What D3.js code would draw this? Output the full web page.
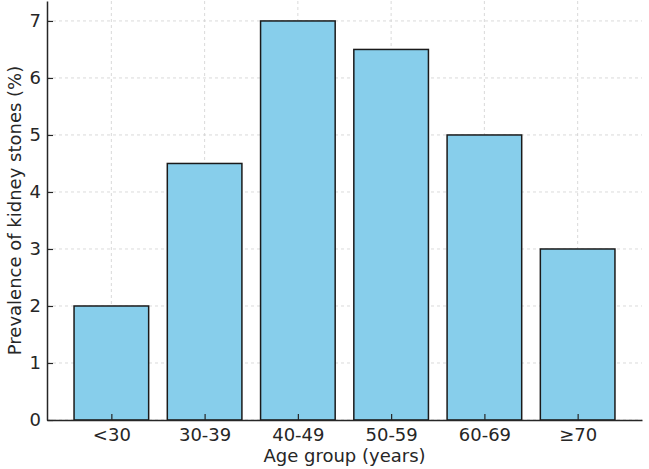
<!DOCTYPE html>
<meta charset="utf-8">
<style>
  body { margin: 0; background: #fff; }
  text { font-family: "DejaVu Sans", sans-serif; fill: #262626; }
</style>
<script src="https://d3js.org/d3.v7.min.js"></script>
<svg id="chart" width="649" height="469"></svg>
<script>
// data
var groups = ["<30", "30-39", "40-49", "50-59", "60-69", "\u226570"];
var prevalence = [2, 4.5, 7, 6.5, 5, 3];
var yTicks = [0, 1, 2, 3, 4, 5, 6, 7];

var svg = d3.select("#chart"),
    margin = {top: 1, right: 7, bottom: 49, left: 47},
    width = +svg.attr("width") - margin.left - margin.right,
    height = +svg.attr("height") - margin.top - margin.bottom;

var g = svg.append("g").attr("transform", "translate(" + margin.left + "," + margin.top + ")");

// matplotlib-like linear x: bars at 0..n-1, width 0.8, 5% margins
var n = groups.length;
var lo = -0.4, hi = n - 1 + 0.4, pad = (hi - lo) * 0.05;
var x = d3.scaleLinear().domain([lo - pad, hi + pad]).range([0, width]);
var y = d3.scaleLinear().domain([0, 7 * 1.05]).range([height, 0]);

// grid
g.append("g").selectAll("line").data(yTicks).enter().append("line")
    .attr("x1", 0).attr("x2", width)
    .attr("y1", d => y(d)).attr("y2", d => y(d))
    .attr("stroke", "#d0d0d0").attr("stroke-width", 0.8).attr("stroke-dasharray", "3,3");
g.append("g").selectAll("line").data(groups).enter().append("line")
    .attr("x1", (d, i) => x(i)).attr("x2", (d, i) => x(i))
    .attr("y1", 0).attr("y2", height)
    .attr("stroke", "#d0d0d0").attr("stroke-width", 0.8).attr("stroke-dasharray", "3,3");

// bars
g.selectAll(".bar").data(prevalence).enter().append("rect")
    .attr("class", "bar")
    .attr("x", (d, i) => x(i - 0.4))
    .attr("width", x(0.8) - x(0))
    .attr("y", d => y(d))
    .attr("height", d => y(0) - y(d))
    .attr("fill", "#87ceeb")
    .attr("stroke", "#1a1a1a")
    .attr("stroke-width", 1.5);

// axes
var xAxis = d3.axisBottom(x).tickValues(d3.range(n)).tickFormat(i => groups[i])
    .tickSizeInner(-6).tickSizeOuter(0).tickPadding(8);
var yAxis = d3.axisLeft(y).tickValues(yTicks).tickFormat(d3.format("d"))
    .tickSizeInner(-6).tickSizeOuter(0).tickPadding(6);

var gx = g.append("g").attr("transform", "translate(0," + height + ")").call(xAxis);
var gy = g.append("g").call(yAxis);
[gx, gy].forEach(function(a) {
  a.select(".domain").attr("stroke", "#262626").attr("stroke-width", 1.5);
  a.selectAll(".tick line").attr("stroke", "#262626").attr("stroke-width", 1.2);
  a.selectAll(".tick text").style("font-size", "18px").style("font-family", "DejaVu Sans").attr("fill", "#262626");
});

// labels
svg.append("text")
    .attr("x", margin.left + width / 2).attr("y", 462)
    .attr("text-anchor", "middle").style("font-size", "18px")
    .text("Age group (years)");
svg.append("text")
    .attr("transform", "translate(21," + (margin.top + height / 2) + ") rotate(-90)")
    .attr("text-anchor", "middle").style("font-size", "18px")
    .text("Prevalence of kidney stones (%)");
</script>
